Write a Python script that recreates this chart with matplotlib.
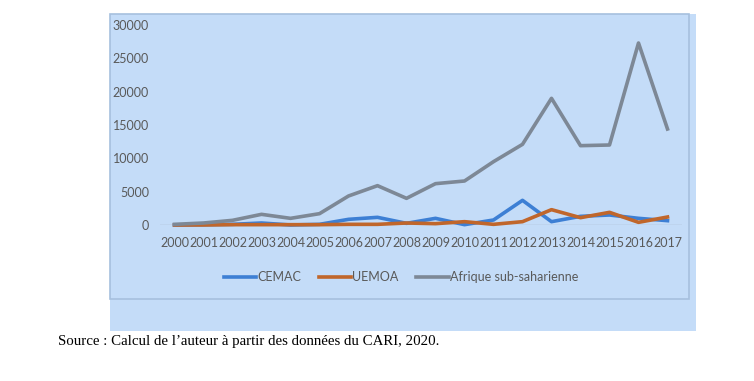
import matplotlib
matplotlib.use("Agg")
import matplotlib.pyplot as plt
from matplotlib.patches import Rectangle

years = [str(y) for y in range(2000, 2018)]
cemac = [0, 50, 100, 300, 0, 100, 850, 1150, 250, 1000, 50, 750, 3700, 500, 1300, 1500, 1000, 650]
uemoa = [0, 0, 50, 50, 50, 50, 100, 100, 300, 200, 500, 100, 500, 2300, 1100, 1900, 400, 1200]
afrique = [100, 300, 700, 1600, 1000, 1700, 4350, 5900, 4000, 6200, 6600, 9500, 12100, 19000, 11900, 12000, 27300, 14400]
series_names = ["CEMAC", "UEMOA", "Afrique sub-saharienne"]
y_ticks = [0, 5000, 10000, 15000, 20000, 25000, 30000]

W, H = 754, 381
fig = plt.figure(figsize=(W / 100, H / 100), dpi=100)
fig.patch.set_facecolor("white")

def fx(px):
    return px / W

def fy(py):
    return 1 - py / H

bg = "#C4DCF8"
# outer blue area
fig.patches.append(Rectangle((fx(110), fy(331)), fx(696) - fx(110), fy(14) - fy(331),
                             transform=fig.transFigure, facecolor=bg, edgecolor="none", zorder=-10))
# inner chart border
fig.patches.append(Rectangle((fx(110), fy(299)), fx(689) - fx(110), fy(14) - fy(299),
                             transform=fig.transFigure, facecolor="none", edgecolor="#A6C0DE",
                             linewidth=1.2, zorder=-9))

ax = fig.add_axes([fx(160), fy(225), fx(682) - fx(160), fy(25) - fy(225)])
ax.set_zorder(5)
ax.patch.set_visible(False)
x = list(range(len(years)))
colors = ["#3D7FD4", "#C0662B", "#7D8896"]
data = [cemac, uemoa, afrique]
ax.axhline(0, color="#AAB6C6", linewidth=1.0, zorder=1)
for vals, c, name in zip(data, colors, series_names):
    ax.plot(x, vals, color=c, linewidth=2.6, label=name, clip_on=False,
            solid_joinstyle="round", zorder=3)
ax.set_xlim(-0.5, len(years) - 0.5)
ax.set_ylim(0, 30000)
ax.set_yticks(y_ticks)
ax.set_yticklabels([str(v) for v in y_ticks], family="Lato", fontsize=9, color="#595959")
ax.set_xticks(x)
ax.set_xticklabels(years, family="Lato", fontsize=9, color="#595959")
ax.tick_params(axis="both", length=0)
ax.tick_params(axis="y", pad=8)
ax.tick_params(axis="x", pad=9)
for s in ax.spines.values():
    s.set_visible(False)

handles, labels = ax.get_legend_handles_labels()
leg = fig.legend(handles, labels, loc="center", bbox_to_anchor=(fx(401), fy(277)), ncol=3,
                 frameon=False, handlelength=2.6, handletextpad=0.1, columnspacing=1.4,
                 prop={"family": "Lato", "size": 9})
for t in leg.get_texts():
    t.set_color("#595959")

fig.text(fx(58), fy(342), "Source : Calcul de l\u2019auteur \u00e0 partir des donn\u00e9es du CARI, 2020.",
         family="Liberation Serif", fontsize=10.7, color="black", ha="left", va="center")

fig.savefig("out.png", dpi=100)
